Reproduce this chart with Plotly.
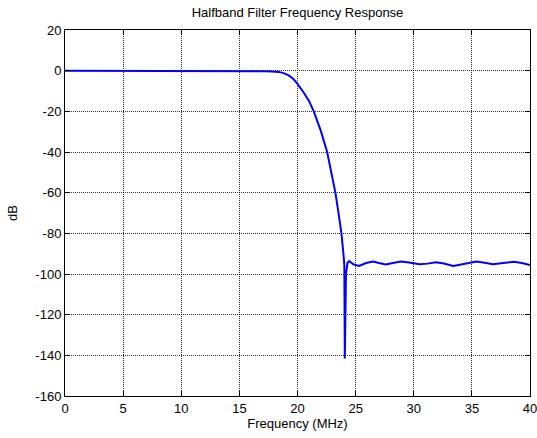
import plotly.graph_objects as go

freq_mhz = [0, 2, 4, 6, 8, 10, 12, 14, 15.5, 15.8, 16.5, 17.2, 17.8, 18.4, 18.8, 19.2, 19.6,
            20.0, 20.5, 21.0, 21.4, 22.0, 22.55, 23.0, 23.26, 23.5, 23.78, 23.98, 24.03, 24.07,
            24.12, 24.17, 24.3, 24.45, 24.8, 25.3, 25.9, 26.5, 27.0, 27.6, 28.2, 28.9,
            29.6, 30.5, 31.2, 31.9, 32.6, 33.4, 34.4, 35.4, 36.1, 36.8, 37.7, 38.6, 39.3, 40.0]
mag_db = [0, 0, 0, 0, 0, 0, 0, 0, 0, -0.3, -0.3, -0.3, -0.4, -0.6, -1.2, -2.2, -3.8,
          -6.5, -10.5, -15.0, -20.0, -29.5, -40.0, -52.0, -60.0, -69.0, -80.0, -92.0, -96.0, -141.5,
          -115.0, -100.0, -94.5, -93.6, -95.2, -96.0, -94.6, -93.9, -94.6, -95.3, -94.6, -93.9,
          -94.4, -95.2, -94.9, -94.2, -94.8, -96.0, -95.0, -93.9, -94.5, -95.2, -94.6, -94.0, -94.6, -95.6]

x_ticks = [0, 5, 10, 15, 20, 25, 30, 35, 40]
y_ticks = [20, 0, -20, -40, -60, -80, -100, -120, -140, -160]

fig = go.Figure()
fig.add_trace(go.Scatter(x=freq_mhz, y=mag_db, mode="lines",
                         line=dict(color="#0000ff", width=2), showlegend=False))

font = dict(family="Liberation Sans, Arial, sans-serif", size=13, color="black")
axis_common = dict(showline=True, linecolor="black", linewidth=1, mirror="allticks",
                   ticks="inside", ticklen=5, tickcolor="black", showgrid=True,
                   gridcolor="rgba(0,0,0,0.8)", griddash="1px,1px", gridwidth=1, zeroline=False,
                   tickfont=font, automargin=False, ticklabeloverflow="allow")

fig.update_layout(
    width=537, height=438,
    margin=dict(l=65, r=7, t=30, b=42),
    paper_bgcolor="white", plot_bgcolor="white",
    font=font,
    title=dict(text="Halfband Filter Frequency Response", x=0.5, xref="paper", xanchor="center",
               y=1 - 12 / 438, yref="container", yanchor="middle",
               font=dict(family="Liberation Sans, Arial, sans-serif", size=13, color="black"),
               automargin=False),
    xaxis=dict(range=[0, 40], tickvals=x_ticks, ticktext=[str(v) for v in x_ticks],
               title=dict(text="Frequency (MHz)", standoff=2, font=font), **axis_common),
    yaxis=dict(range=[-160, 20], tickvals=y_ticks, ticktext=[str(v) for v in y_ticks],
               title=dict(text="dB", standoff=14, font=font), **axis_common),
)

fig.write_html("out.html", config={"displayModeBar": False},
               post_script="document.body.style.margin='0';document.body.style.overflow='hidden';")
